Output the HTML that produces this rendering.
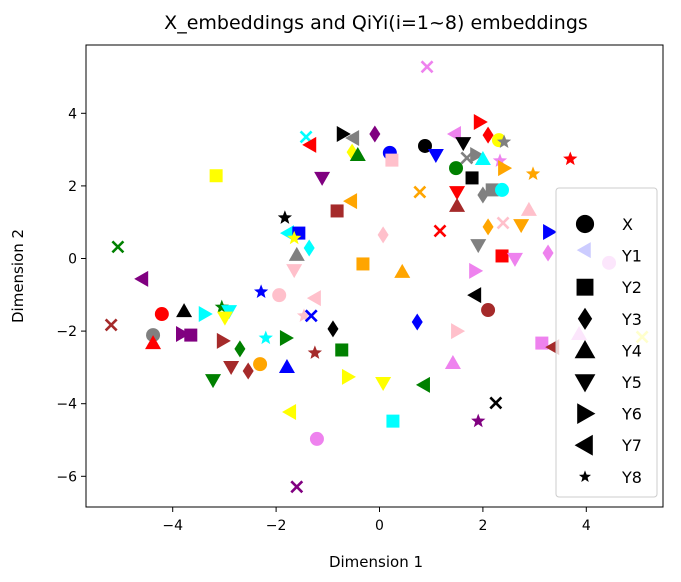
<!DOCTYPE html>
<html><head><meta charset="utf-8"><style>
body{margin:0;background:#fff;}
svg{display:block;font-family:"DejaVu Sans","Liberation Sans",sans-serif;}
</style></head><body>
<svg id="chart" width="681" height="582" viewBox="0 0 681 582">
<text x="376" y="29" font-size="19" text-anchor="middle" fill="#000">X_embeddings and QiYi(i=1~8) embeddings</text>
<text x="376" y="567" font-size="15" text-anchor="middle" fill="#000">Dimension 1</text>
<text x="0" y="0" font-size="15" text-anchor="middle" fill="#000" transform="translate(23,276) rotate(-90)">Dimension 2</text>
<g id="ticks"></g>
<g id="marks"></g>
<rect x="86" y="45" width="577" height="462" fill="none" stroke="#000" stroke-width="1"/>
<g id="legend"></g>
</svg>
<script>
const xTicks=[-4,-2,0,2,4];
const yTicks=[-6,-4,-2,0,2,4];
const ptX=[-1.42,-1.34,-0.71,-0.51,-0.09,-0.53,-0.42,0.20,-3.16,-1.11,-0.55,-0.82,-1.83,-1.77,-1.56,-1.65,-1.36,-1.60,-1.65,0.07,-0.32,-5.06,-4.59,0.92,0.24,0.88,1.09,1.46,1.62,1.94,2.10,2.31,2.41,1.69,1.87,2.00,2.33,2.41,1.48,1.79,3.69,2.97,0.78,1.50,1.50,2.00,2.18,2.37,2.89,1.17,2.10,2.39,2.74,3.28,1.91,2.37,2.62,3.26,1.85,0.44,3.97,4.44,-2.29,-1.94,-1.25,-4.21,-3.78,-3.38,-3.05,-2.91,-2.99,-1.46,-1.32,-5.19,-4.38,-4.38,-3.82,-3.65,-3.03,-2.70,-2.20,-1.81,-0.90,-1.25,-0.73,-2.87,-2.54,-2.31,-1.79,-3.22,-0.61,0.07,-1.73,-1.21,-1.60,1.85,2.10,0.73,1.50,3.14,3.36,3.86,5.08,1.42,0.86,2.25,1.91,0.26];
const ptY=[3.35,3.13,3.43,3.32,3.43,2.93,2.85,2.91,2.28,2.22,1.58,1.31,1.12,0.70,0.70,0.56,0.29,0.10,-0.32,0.65,-0.15,0.32,-0.56,5.28,2.71,3.10,2.85,3.43,3.18,3.76,3.40,3.26,3.21,2.77,2.85,2.74,2.69,2.49,2.49,2.22,2.74,2.33,1.83,1.83,1.45,1.75,1.89,1.89,1.34,0.76,0.87,0.98,0.92,0.73,0.37,0.07,-0.01,0.15,-0.34,-0.37,0.23,-0.12,-0.92,-1.01,-1.09,-1.53,-1.45,-1.53,-1.34,-1.45,-1.63,-1.58,-1.58,-1.83,-2.11,-2.33,-2.08,-2.11,-2.27,-2.49,-2.19,-2.19,-1.94,-2.60,-2.52,-2.99,-3.10,-2.91,-2.99,-3.35,-3.26,-3.43,-4.23,-4.97,-6.29,-1.01,-1.42,-1.75,-2.00,-2.33,-2.44,-2.08,-2.16,-2.88,-3.48,-3.98,-4.48,-4.48];
const ptMarker=['x','<','>','<','d','d','^','o','s','v','<','s','*','<','s','*','d','^','v','d','s','x','<','x','s','o','v','<','v','>','d','o','*','x','>','^','*','>','o','s','*','*','x','v','^','d','s','o','^','x','d','x','v','>','v','s','v','d','>','^','<','o','*','o','<','o','^','>','*','v','v','*','x','x','o','^','>','s','>','d','*','>','d','*','s','v','d','o','^','v','>','v','<','o','x','<','o','d','>','s','<','^','x','^','<','x','*','s'];
const ptColor=['cyan','red','black','gray','purple','yellow','green','blue','yellow','purple','orange','brown','black','cyan','blue','yellow','cyan','gray','pink','pink','orange','green','purple','violet','pink','black','blue','violet','black','red','red','yellow','gray','gray','gray','cyan','violet','orange','green','black','red','orange','orange','red','brown','gray','gray','cyan','pink','red','orange','pink','orange','blue','gray','red','violet','violet','violet','orange','blue','violet','blue','pink','pink','red','black','cyan','green','cyan','yellow','pink','blue','brown','gray','red','purple','purple','brown','green','cyan','green','black','brown','green','brown','brown','orange','blue','green','yellow','yellow','yellow','violet','purple','black','brown','blue','pink','violet','brown','violet','yellow','violet','green','black','purple','cyan'];
const legendLabels=['X','Y1','Y2','Y3','Y4','Y5','Y6','Y7','Y8'];
const legendMarkers=['o','','s','d','^','v','>','<','*'];

const NS='http://www.w3.org/2000/svg';
function sx(v){return 379.5+v*51.7;}
function sy(v){return 258.5-v*36.3;}
function mk(tag,attrs){const e=document.createElementNS(NS,tag);for(const k in attrs)e.setAttribute(k,attrs[k]);return e;}
function shape(m,cx,cy,col){
  let e;
  if(m==='o'){e=mk('circle',{cx:cx,cy:cy,r:7,fill:col});}
  else if(m==='s'){e=mk('rect',{x:cx-6.5,y:cy-6.5,width:13,height:13,fill:col});}
  else if(m==='d'){e=mk('polygon',{points:`${cx},${cy-8.5} ${cx+5.5},${cy} ${cx},${cy+8.5} ${cx-5.5},${cy}`,fill:col});}
  else if(m==='^'){e=mk('polygon',{points:`${cx},${cy-8} ${cx+8},${cy+6} ${cx-8},${cy+6}`,fill:col});}
  else if(m==='v'){e=mk('polygon',{points:`${cx},${cy+8} ${cx+8},${cy-6} ${cx-8},${cy-6}`,fill:col});}
  else if(m==='>'){e=mk('polygon',{points:`${cx+8},${cy} ${cx-6},${cy-8} ${cx-6},${cy+8}`,fill:col});}
  else if(m==='<'){e=mk('polygon',{points:`${cx-8},${cy} ${cx+6},${cy-8} ${cx+6},${cy+8}`,fill:col});}
  else if(m==='x'){e=mk('path',{d:`M${cx-5.5},${cy-5.5}L${cx+5.5},${cy+5.5}M${cx-5.5},${cy+5.5}L${cx+5.5},${cy-5.5}`,stroke:col,'stroke-width':2.6,fill:'none'});}
  else if(m==='*'){let p=[];for(let i=0;i<10;i++){const r=i%2?3.2:7.5;const a=-Math.PI/2+i*Math.PI/5;p.push((cx+r*Math.cos(a)).toFixed(1)+','+(cy+r*Math.sin(a)).toFixed(1));}e=mk('polygon',{points:p.join(' '),fill:col});}
  return e;
}
const tg=document.getElementById('ticks');
xTicks.forEach(v=>{
  const l=mk('line',{x1:sx(v),x2:sx(v),y1:507,y2:512,stroke:'#000'});
  
  
  tg.appendChild(l);
  const t=mk('text',{x:sx(v),y:530,'font-size':14,'text-anchor':'middle',fill:'#000'});
  t.textContent=(v<0?'\u2212'+(-v):v);
  
  
  tg.appendChild(t);
});
yTicks.forEach(v=>{
  const l=mk('line',{x1:81,x2:86,y1:sy(v),y2:sy(v),stroke:'#000'});
  
  
  tg.appendChild(l);
  const t=mk('text',{x:77,y:sy(v)+5,'font-size':14,'text-anchor':'end',fill:'#000'});
  t.textContent=(v<0?'\u2212'+(-v):v);
  
  
  tg.appendChild(t);
});
const mg=document.getElementById('marks');
ptX.forEach((v,i)=>{
  const e=shape(ptMarker[i],sx(v),sy(ptY[i]),ptColor[i]);
  
  
  mg.appendChild(e);
});
const lg=document.getElementById('legend');
const box=mk('rect',{x:556,y:188,width:101,height:309,rx:3,fill:'rgba(255,255,255,0.8)',stroke:'#ccc'});


lg.appendChild(box);
legendLabels.forEach((lab,i)=>{
  const y=224+i*31.6;
  if(legendMarkers[i]){
    const m=legendMarkers[i];
    const s=shape(m,585,y,'#000');
    const k=(m==='*')?0.85:1.3;
    s.setAttribute('transform',`translate(585,${y}) scale(${k}) translate(-585,${-y})`);
    
    
    lg.appendChild(s);
  }
  const t=mk('text',{x:622,y:y+6,'font-size':16,fill:'#000'});
  t.textContent=lab;
  
  
  lg.appendChild(t);
});
</script>
</body></html>
